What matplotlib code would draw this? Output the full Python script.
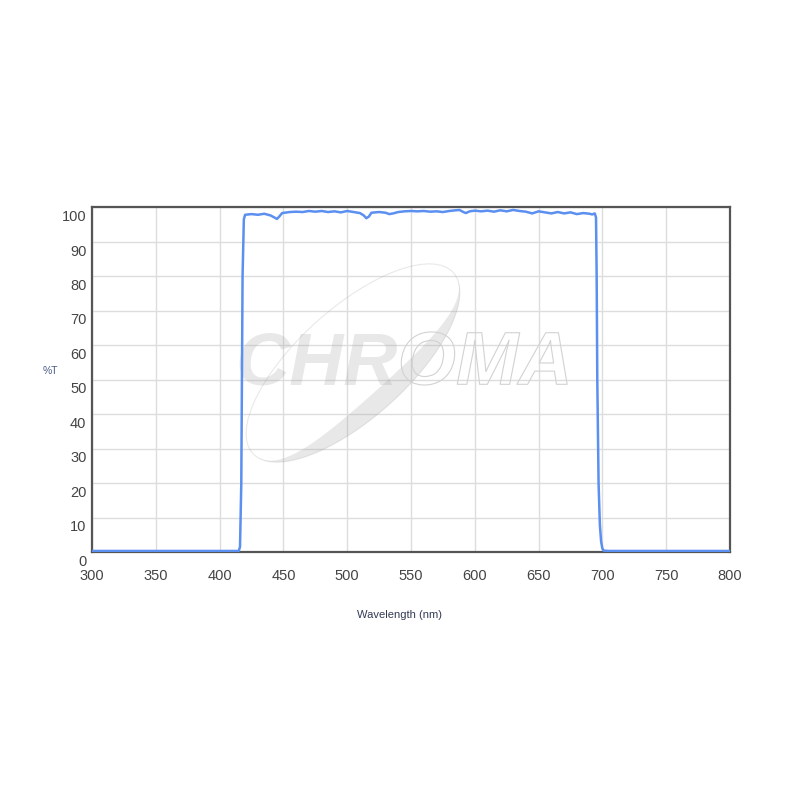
import numpy as np
import matplotlib
matplotlib.use("Agg")
from matplotlib import pyplot as plt
from matplotlib.patches import Ellipse, Polygon
import matplotlib.patheffects as pe
import matplotlib.transforms as mtransforms

# transmission curve
wavelength = [300, 410, 415, 416, 417, 418, 419, 420, 425, 430, 435, 440, 443, 445, 447, 449,
              455, 460, 465, 470, 475, 480, 485, 490, 495, 500, 505, 510, 513, 515, 517, 519,
              525, 530, 533, 536, 540, 545, 550, 555, 560, 565, 570, 575, 580, 585, 588, 591,
              593, 596, 600, 605, 610, 615, 620, 625, 630, 635, 640, 645, 650, 655, 660, 665,
              670, 675, 680, 685, 690, 692, 694, 695, 695.5, 696, 697, 698, 699, 700, 701, 705, 800]
transmission = [0.3, 0.3, 0.3, 1.5, 20, 80, 96.5, 97.8, 98.0, 97.8, 98.1, 97.6, 97.0, 96.6, 97.4, 98.3,
                98.6, 98.7, 98.6, 98.9, 98.7, 98.9, 98.6, 98.8, 98.5, 98.9, 98.6, 98.3, 97.6, 96.8, 97.3, 98.4,
                98.6, 98.4, 98.0, 98.2, 98.6, 98.8, 98.9, 98.8, 98.9, 98.7, 98.8, 98.6, 98.9, 99.1, 99.2, 98.6,
                98.3, 98.8, 99.0, 98.8, 99.0, 98.7, 99.1, 98.8, 99.2, 98.9, 98.7, 98.2, 98.8, 98.5, 98.2, 98.6,
                98.2, 98.5, 98.0, 98.3, 98.1, 97.9, 98.2, 97.0, 80, 50, 20, 8, 3, 1, 0.4, 0.3, 0.3]

x_ticks = list(range(300, 801, 50))
y_ticks = list(range(0, 101, 10))

plt.rcParams['font.family'] = ['Liberation Sans', 'DejaVu Sans']

fig = plt.figure(figsize=(8, 8), dpi=100)
ax = fig.add_axes([0.115, 0.31, 0.7975, 0.431])

ax.plot(wavelength, transmission, color="#5b8ff0", linewidth=1.8, zorder=5)

ax.grid(True, color="#dddddd", linewidth=1, zorder=0)
ax.set_axisbelow(True)

# --- faint CHROMA watermark (figure-pixel geometry) ---
wm_grey = "#9a9a9a"
wm_alpha = 0.22
cx, cy, a, b, ang = 353, 800 - 363, 135, 55, np.deg2rad(42)
ax.add_patch(Ellipse((cx / 800, cy / 800), 2 * a / 800, 2 * b / 800, angle=42,
                     transform=fig.transFigure, fill=False, edgecolor=wm_grey,
                     alpha=wm_alpha, linewidth=0.8, zorder=2))
t = np.deg2rad(np.linspace(-178, 12, 120))
outer = np.c_[a * np.cos(t), b * np.sin(t)]
inner = np.c_[a * np.cos(t), (b - 19 * np.clip(-np.sin(t), 0, 1) ** 1.3) * np.sin(t)]
loc = np.vstack([outer, inner[::-1]])
rot = np.array([[np.cos(ang), -np.sin(ang)], [np.sin(ang), np.cos(ang)]])
pts = (loc @ rot.T + [cx, cy]) / 800
ax.add_patch(Polygon(pts, closed=True, transform=fig.transFigure, facecolor=wm_grey,
                     edgecolor="none", alpha=wm_alpha, zorder=2))
ax.text(0.497, 0.544, "CHR", transform=fig.transFigure, fontsize=54, fontweight="bold",
        style="italic", color=wm_grey, alpha=wm_alpha, ha="right", va="center", zorder=3)
ax.text(0.497, 0.544, "OMA", transform=fig.transFigure, fontsize=54, fontweight="bold",
        style="italic", color="none", ha="left", va="center", zorder=3,
        path_effects=[pe.Stroke(linewidth=0.8, foreground="#d2d2d2")])

ax.set_xlim(300, 800)
ax.set_ylim(0, 100)
ax.set_xticks(x_ticks)
ax.set_yticks(y_ticks)
ax.tick_params(length=0, labelsize=10.5, labelcolor="#444444")
ax.tick_params(axis="x", pad=12)
ax.tick_params(axis="y", pad=4)
for sp in ax.spines.values():
    sp.set_color("#555555")
    sp.set_linewidth(1.6)

# y tick labels sit a bit below their gridline
shift = mtransforms.ScaledTranslation(0, -6 / 72, fig.dpi_scale_trans)
for lab in ax.get_yticklabels():
    lab.set_transform(lab.get_transform() + shift)

fig.text(0.0625, 0.536, "%T", fontsize=7.5, color="#4a5a85", ha="center", va="center")
fig.text(0.499, 0.231, "Wavelength (nm)", fontsize=8, color="#333a55", ha="center", va="center")

fig.savefig("out.png", dpi=100)
